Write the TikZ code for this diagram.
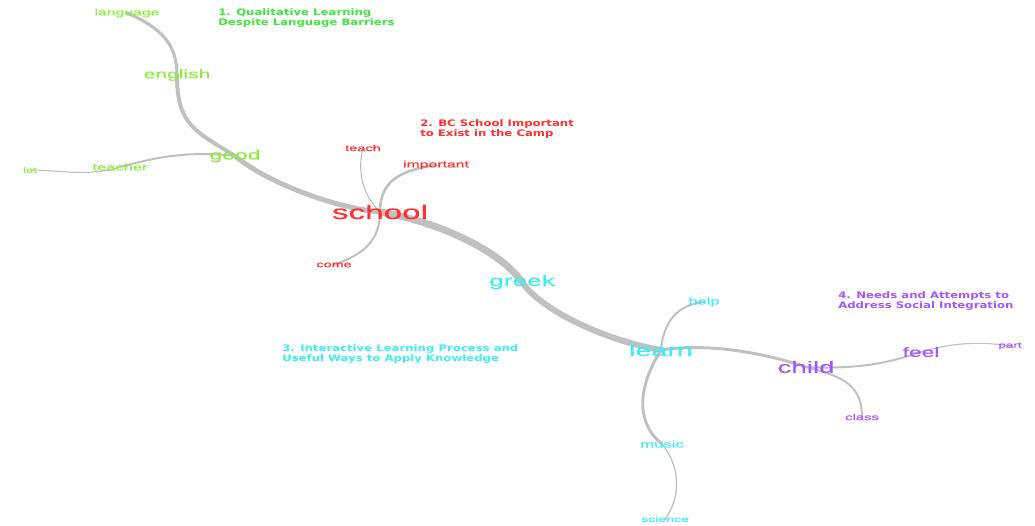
\documentclass[tikz,border=0pt]{standalone}
\usepackage{fontspec}
\newfontfamily\wordfont[FakeStretch=1.7,FakeBold=0.4]{Liberation Sans}
\newfontfamily\headfont[FakeStretch=1.3]{DejaVu Sans}
\usetikzlibrary{positioning}

\definecolor{linkgray}{RGB}{192,192,192}
\definecolor{grnhead}{RGB}{60,232,60}
\definecolor{grnword}{RGB}{140,236,60}
\definecolor{redword}{RGB}{255,48,48}
\definecolor{cyanword}{RGB}{60,238,242}
\definecolor{purpword}{RGB}{165,85,255}

\pgfdeclarelayer{links}
\pgfsetlayers{links,main}

\tikzset{
  word/.style={inner sep=0pt, font=\wordfont\fontsize{#1}{#1}\selectfont},
  head/.style={inner sep=0pt, anchor=north west, align=left,
    font=\headfont\bfseries\fontsize{6.4}{7.5}\selectfont},
  link/.style={draw=linkgray, line cap=round, line width=#1}
}

\begin{document}
\begin{tikzpicture}[x=0.025cm,y=-0.025cm]
  \useasboundingbox (0,0) rectangle (1035,526);

  % cluster 1
  \node[word=6.6,text=grnword] (language) at (127,13) {language};
  \node[word=8.8,text=grnword] (english) at (177,75) {english};
  \node[word=9.6,text=grnword] (good) at (235,156) {good};
  \node[word=6.9,text=grnword] (teacher) at (120,167) {teacher};
  \node[word=5.5,text=grnword] (lot) at (30,170) {lot};
  \node[head,text=grnhead] (h1) at (218,8) {1. Qualitative Learning\\Despite Language Barriers};

  % cluster 2
  \node[word=13.9,text=redword] (school) at (380,212) {school};
  \node[word=6.1,text=redword] (teach) at (363,148) {teach};
  \node[word=6.6,text=redword] (important) at (436,165) {important};
  \node[word=6,text=redword] (come) at (334,265) {come};
  \node[head,text=redword] (h2) at (420,119) {2. BC School Important\\to Exist in the Camp};

  % cluster 3
  \node[word=11,text=cyanword] (greek) at (522,282) {greek};
  \node[word=12,text=cyanword] (learn) at (661,350) {learn};
  \node[word=6.9,text=cyanword] (help) at (704,302) {help};
  \node[word=7,text=cyanword] (music) at (662,444) {music};
  \node[word=5.9,text=cyanword] (science) at (665,519) {science};
  \node[head,text=cyanword] (h3) at (282,344) {3. Interactive Learning Process and\\Useful Ways to Apply Knowledge};

  % cluster 4
  \node[word=11.6,text=purpword] (child) at (806,367) {child};
  \node[word=9.6,text=purpword] (feel) at (921,352) {feel};
  \node[word=5.6,text=purpword] (part) at (1010,346) {part};
  \node[word=6.2,text=purpword] (class) at (862,417) {class};
  \node[head,text=purpword] (h4) at (838,291) {4. Needs and Attempts to\\Address Social Integration};

  \begin{pgfonlayer}{links}
    % main branch
    \draw[link=2.2pt] (language.center) .. controls +(35,15) and +(0,-30) .. (english.center);
    \draw[link=2.8pt] (english.center) .. controls +(0,50) and +(-40,-25) .. (good.center);
    \draw[link=3.5pt] (good.center) .. controls +(30,25) and +(-50,-5) .. (school.center);
    \draw[link=5pt] (school.center) .. controls +(50,8) and +(-25,-35) .. (greek.center);
    \draw[link=4.3pt] (greek.center) .. controls +(20,30) and +(-50,-8) .. (learn.center);
    \draw[link=2.1pt] (learn.center) .. controls +(50,-8) and +(-35,-12) .. (child.center);
    % side branches
    \draw[link=1.4pt] (good.center) .. controls +(-50,-6) and +(30,-8) .. (teacher.center);
    \draw[link=0.8pt] (teacher.center) .. controls +(-30,10) and +(30,0) .. (lot.center);
    \draw[link=0.8pt] (school.center) .. controls +(-20,-20) and +(-5,20) .. (teach.center);
    \draw[link=1.8pt] (school.center) .. controls +(0,-35) and +(-30,5) .. (important.center);
    \draw[link=1.4pt] (school.center) .. controls +(0,35) and +(20,-8) .. (come.center);
    \draw[link=1.4pt] (learn.center) .. controls +(3,-35) and +(-20,2) .. (help.center);
    \draw[link=2.1pt] (learn.center) .. controls +(-25,40) and +(-25,-20) .. (music.center);
    \draw[link=0.9pt] (music.center) .. controls +(20,25) and +(15,-20) .. (science.center);
    \draw[link=1.4pt] (child.center) .. controls +(40,10) and +(0,-30) .. (class.center);
    \draw[link=1.4pt] (child.center) .. controls +(60,3) and +(-25,8) .. (feel.center);
    \draw[link=0.8pt] (feel.center) .. controls +(40,-12) and +(-20,-3) .. (part.center);
  \end{pgfonlayer}
\end{tikzpicture}
\end{document}
